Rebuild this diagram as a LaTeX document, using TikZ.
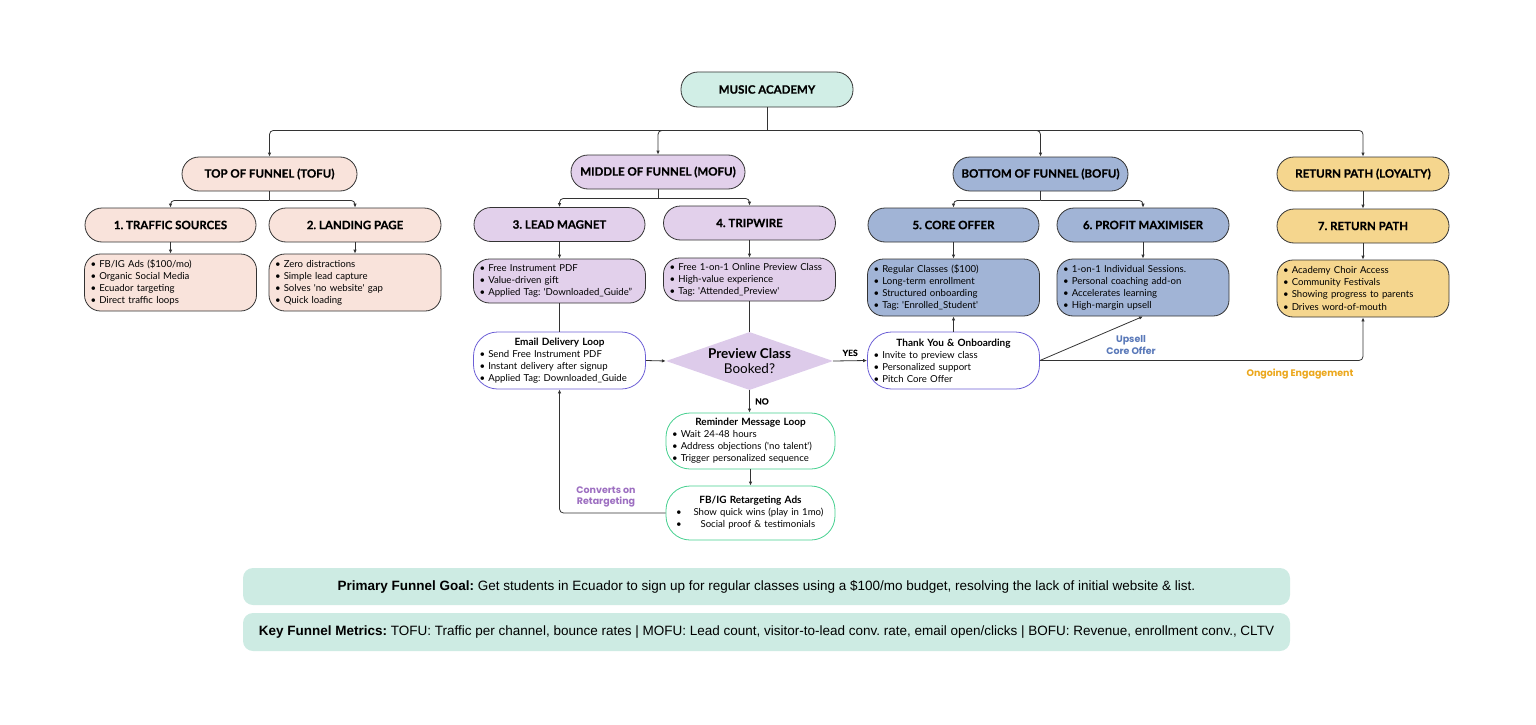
\documentclass[tikz,border=0pt]{standalone}
\usepackage{fontspec}
\setmainfont{Lato}
\newfontfamily\headfont{Lato}[BoldFeatures={FakeBold=0.6}]
\newfontfamily\notefont{Liberation Sans}
\newfontfamily\tagfont{Poppins}
\usetikzlibrary{arrows.meta,shapes.geometric}
\definecolor{mint}{HTML}{D1EEE6}
\definecolor{notemint}{HTML}{CDEBE3}
\definecolor{peach}{HTML}{F9E3DB}
\definecolor{lilac}{HTML}{E2D0EB}
\definecolor{steel}{HTML}{A1B4D6}
\definecolor{sand}{HTML}{F5D68E}
\definecolor{diam}{HTML}{DDCBEA}
\definecolor{loopblue}{HTML}{6C5FD6}
\definecolor{loopgreen}{HTML}{45D08F}
\definecolor{convpurple}{HTML}{9D6FC1}
\definecolor{upblue}{HTML}{5A79B9}
\definecolor{engorange}{HTML}{EBA71C}
\definecolor{line}{HTML}{333333}
\frenchspacing
\newcommand{\bul}{\textbullet\ }
\newcommand{\sq}{\textquotesingle}
\newcommand{\ttl}[1]{\makebox[\hsize]{\bfseries\fontsize{10}{12}\selectfont #1}}
\tikzset{
	pill/.style={draw=line, line width=0.8pt, rounded corners=17pt, minimum height=34pt, inner sep=0pt, font=\headfont\bfseries\fontsize{11.5}{13}\selectfont},
	bulletbox/.style={draw=line, line width=0.8pt, rounded corners=16pt, inner xsep=6pt, inner ysep=0pt, text width=160pt, align=left, font=\fontsize{9.6}{12}\selectfont},
	loopbox/.style={bulletbox, fill=white, rounded corners=24pt},
	decision/.style={diamond, fill=diam, aspect=2.9, inner sep=0pt, minimum width=167pt, minimum height=58pt, align=center, font=\fontsize{13.5}{14.5}\selectfont},
	conn/.style={draw=line, line width=0.8pt},
	arr/.style={conn, -{Latex[length=4pt,width=3.5pt]}},
	lbl/.style={font=\tagfont\bfseries\fontsize{9.5}{11.5}\selectfont, align=center},
	note/.style={fill=notemint, rounded corners=10pt, minimum width=1047pt, inner sep=0pt, font=\notefont\fontsize{13.5}{15}\selectfont}
}
\begin{document}
\begin{tikzpicture}[x=1pt,y=-1pt]
	\useasboundingbox (0,0) rectangle (1536,725);

	% top
	\node[pill, fill=mint, minimum width=172pt, minimum height=35pt] (music) at (767,89.5) {MUSIC ACADEMY};

	% stages
	\node[pill, fill=peach, minimum width=175pt] (tofu) at (269.5,174) {TOP OF FUNNEL (TOFU)};
	\node[pill, fill=lilac, minimum width=174pt] (mofu) at (658,172) {MIDDLE OF FUNNEL (MOFU)};
	\node[pill, fill=steel, minimum width=175pt] (bofu) at (1040.5,174) {BOTTOM OF FUNNEL (BOFU)};
	\node[pill, fill=sand, minimum width=172pt] (loyal) at (1363,174) {RETURN PATH (LOYALTY)};

	% steps
	\node[pill, fill=peach, minimum width=171pt] (ts) at (170.5,225) {1. TRAFFIC SOURCES};
	\node[pill, fill=peach, minimum width=172pt] (lp) at (355,225) {2. LANDING PAGE};
	\node[pill, fill=lilac, minimum width=171pt] (lm) at (559.5,224.5) {3. LEAD MAGNET};
	\node[pill, fill=lilac, minimum width=172pt] (tw) at (749.5,223) {4. TRIPWIRE};
	\node[pill, fill=steel, minimum width=171pt] (co) at (953.5,225) {5. CORE OFFER};
	\node[pill, fill=steel, minimum width=172pt] (pm) at (1143,225) {6. PROFIT MAXIMISER};
	\node[pill, fill=sand, minimum width=172pt] (rp) at (1363,226) {7. RETURN PATH};

	% step details
	\node[bulletbox, fill=peach, minimum height=57pt] (tsl) at (170.5,282.5) {\bul FB/IG Ads (\$100/mo)\\\bul Organic Social Media\\\bul Ecuador targeting\\\bul Direct traffic loops};
	\node[bulletbox, fill=peach, minimum height=57pt] (lpl) at (355,282.5) {\bul Zero distractions\\\bul Simple lead capture\\\bul Solves \sq no website\sq\ gap\\\bul Quick loading};
	\node[bulletbox, fill=lilac, minimum height=44pt] (lml) at (559.5,281) {\bul Free Instrument PDF\\\bul Value-driven gift\\\bul Applied Tag: \sq Downloaded\_Guide"};
	\node[bulletbox, fill=lilac, minimum height=43pt] (twl) at (749.5,279.5) {\bul Free 1-on-1 Online Preview Class\\\bul High-value experience\\\bul Tag: \sq Attended\_Preview\sq};
	\node[bulletbox, fill=steel, minimum height=57pt] (col) at (953.5,287.5) {\bul Regular Classes (\$100)\\\bul Long-term enrollment\\\bul Structured onboarding\\\bul Tag: \sq Enrolled\_Student\sq};
	\node[bulletbox, fill=steel, minimum height=57pt] (pml) at (1143,287.5) {\bul 1-on-1 Individual Sessions.\\\bul Personal coaching add-on\\\bul Accelerates learning\\\bul High-margin upsell};
	\node[bulletbox, fill=sand, minimum height=57pt] (rpl) at (1363,288.5) {\bul Academy Choir Access\\\bul Community Festivals\\\bul Showing progress to parents\\\bul Drives word-of-mouth};

	% loops
	\node[loopbox, draw=loopblue, minimum height=57pt] (email) at (559.5,360.5) {\ttl{Email Delivery Loop}\\\bul Send Free Instrument PDF\\\bul Instant delivery after signup\\\bul Applied Tag: Downloaded\_Guide};
	\node[decision] (book) at (749.5,361) {\textbf{Preview Class}\\Booked?};
	\node[loopbox, draw=loopblue, minimum height=57pt] (thank) at (953.5,360.5) {\ttl{Thank You \& Onboarding}\\\bul Invite to preview class\\\bul Personalized support\\\bul Pitch Core Offer};
	\node[loopbox, draw=loopgreen, text width=157pt, minimum height=56pt] (remind) at (750.5,441) {\ttl{Reminder Message Loop}\\\bul Wait 24-48 hours\\\bul Address objections (\sq no talent\sq)\\\bul Trigger personalized sequence};
	\node[loopbox, draw=loopgreen, text width=157pt, minimum height=54pt] (fb) at (750.5,513) {\ttl{FB/IG Retargeting Ads}\\\hspace*{4pt}\textbullet\hspace{12pt}Show quick wins (play in 1mo)\\\hspace*{4pt}\textbullet\hspace{19pt}Social proof \& testimonials};

	% connectors
	\draw[conn] (music.south) -- ++(0,23) coordinate (hub);
	\foreach \n in {tofu,mofu,bofu,loyal}
		\draw[arr, rounded corners=4pt] (hub) -| (\n.north);
	\draw[conn] (tofu.south) -- ++(0,9) coordinate (tofuhub);
	\draw[arr, rounded corners=4pt] (tofuhub) -| (ts.north);
	\draw[arr, rounded corners=4pt] (tofuhub) -| (lp.north);
	\draw[conn] (mofu.south) -- ++(0,9) coordinate (mofuhub);
	\draw[arr, rounded corners=4pt] (mofuhub) -| (lm.north);
	\draw[arr, rounded corners=4pt] (mofuhub) -| (tw.north);
	\draw[conn] (bofu.south) -- ++(0,9) coordinate (bofuhub);
	\draw[arr, rounded corners=4pt] (bofuhub) -| (co.north);
	\draw[arr, rounded corners=4pt] (bofuhub) -| (pm.north);
	\draw[arr] (loyal.south) -- (rp.north);
	\foreach \a/\b in {ts/tsl,lp/lpl,lm/lml,tw/twl,co/col,pm/pml,rp/rpl}
		\draw[arr] (\a.south) -- (\b.north);

	\draw[conn] (lml.south) -- (email.north);
	\draw[conn] (twl.south) -- (book.north);
	\draw[arr] (email.east) -- (book.west);
	\draw[arr] (book.east) -- node[lbl, above=1pt, font=\headfont\bfseries\fontsize{8.5}{10}\selectfont] {YES} (thank.west);
	\draw[arr] (book.south) -- node[lbl, right=2pt, font=\headfont\bfseries\fontsize{8.5}{10}\selectfont] {NO} (remind.north -| book.south);
	\draw[arr] (remind.south) -- (fb.north);
	\draw[arr, rounded corners=4pt] (fb.west) -| (email.south);
	\draw[arr] (thank.north) -- (col.south);
	\draw[arr] (thank.east) -- (pml.south);
	\draw[arr, rounded corners=4pt] (thank.east) -| (rpl.south);

	% path labels
	\node[lbl, text=convpurple] (conv) at (606,497) {Converts on\\Retargeting};
	\node[lbl, text=upblue] (ups) at (1131,345) {Upsell\\Core Offer};
	\node[lbl, text=engorange] (ongo) at (1300,374) {Ongoing Engagement};

	% notes
	\node[note, minimum height=37pt] (goal) at (766.5,586.5) {\textbf{Primary Funnel Goal:} Get students in Ecuador to sign up for regular classes using a \$100/mo budget, resolving the lack of initial website \& list.};
	\node[note, minimum height=38pt] (metrics) at (766.5,632) {\textbf{Key Funnel Metrics:} TOFU: Traffic per channel, bounce rates | MOFU: Lead count, visitor-to-lead conv. rate, email open/clicks | BOFU: Revenue, enrollment conv., CLTV};
\end{tikzpicture}
\end{document}
